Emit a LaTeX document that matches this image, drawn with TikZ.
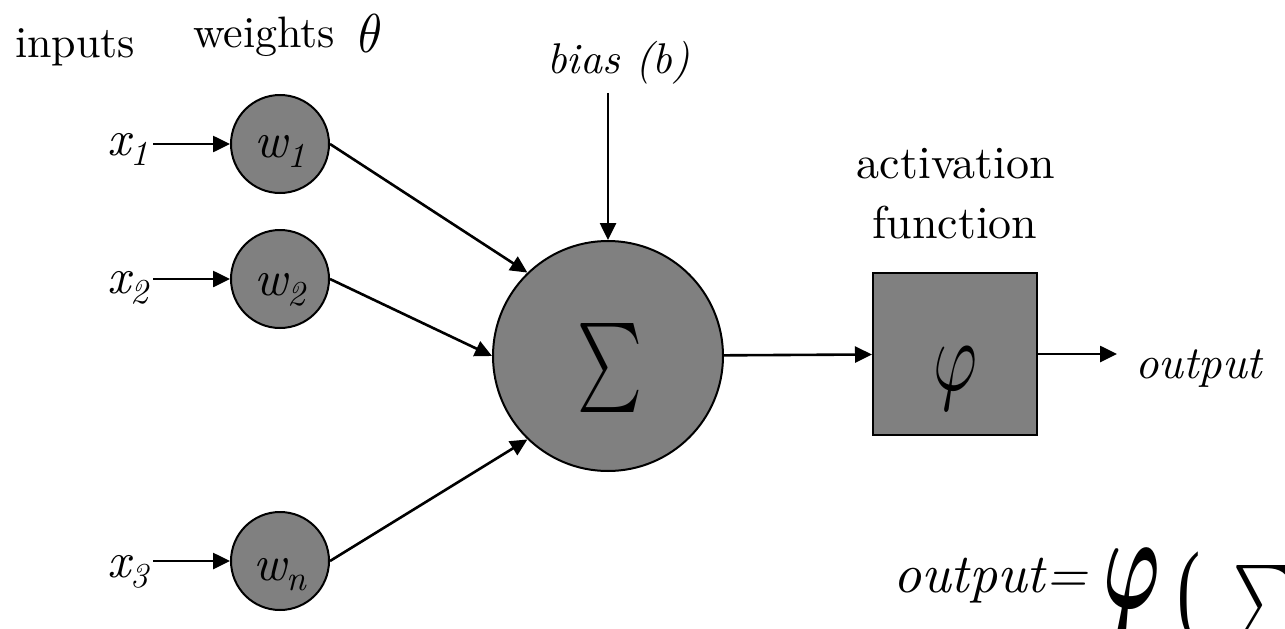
\documentclass[tikz,border=0pt]{standalone}
\usepackage{fontspec}
\usepackage{graphicx}
\usepackage{bm}
\setmainfont{lmroman10-regular.otf}[ItalicFont=lmroman10-italic.otf]
\newfontfamily\tnrup{Liberation Serif}
\usetikzlibrary{arrows.meta}
\definecolor{gfill}{RGB}{128,128,128}
\newcommand\myfs[1]{\fontsize{#1}{#1}\selectfont}
\newcommand\xsub[3]{{\itshape\myfs{#3}#1\raisebox{-10pt}{\myfs{35}#2}}}
\tikzset{
  wnode/.style={circle, draw=black, line width=2pt, fill=gfill, minimum size=98pt, inner sep=0pt, text depth=0pt},
  conn/.style={line width=2.6pt, -{Triangle[length=17pt,width=16pt]}},
  lbl/.style={inner sep=0pt, anchor=base west},
  sym/.style={inner sep=0pt},
}
\begin{document}
\begin{tikzpicture}[x=1pt,y=-1pt]
\useasboundingbox (0,0) rectangle (1285,629);
\clip (0,0) rectangle (1285,629);
% top labels
\node[lbl] (inputs) at (15,57) {\myfs{44}inputs};
\node[lbl] (weights) at (193,47) {\myfs{44}weights};
\node[sym, anchor=south west] (theta) at (358,53) {\resizebox*{24pt}{38pt}{$\theta$}};
% weight circles
\node[wnode, text height=26pt] (w1) at (280,144) {\xsub{w}{1}{50}};
\node[wnode, text height=32pt] (w2) at (280,279) {\xsub{w}{2}{50}};
\node[wnode, text height=38pt] (wn) at (280,561) {\xsub{w}{n}{50}};
% inputs
\node[lbl] (x1) at (107,155) {\xsub{x}{1}{50}};
\node[lbl] (x2) at (107,293) {\xsub{x}{2}{50}};
\node[lbl] (x3) at (107,577) {\xsub{x}{3}{50}};
\draw[conn, shorten <=5pt] (x1.east |- w1.west) -- (w1.west);
\draw[conn, shorten <=5pt] (x2.east |- w2.west) -- (w2.west);
\draw[conn, shorten <=5pt] (x3.east |- wn.west) -- (wn.west);
% summation
\node[circle, draw=black, line width=2pt, fill=gfill, minimum size=230pt, inner sep=0pt] (S) at (608,356) {};
\node[sym] (Ssym) at (609.5,367.5) {\resizebox*{65pt}{89pt}{$\sum$}};
\draw[conn] (w1.east) -- (S.134);
\draw[conn] (w2.east) -- (S.180);
\draw[conn] (wn.east) -- (S.226);
% bias
\node[lbl] (bias) at (547,73) {\myfs{43}\itshape bias (b)};
\draw[conn, shorten <=9pt] (bias.south -| S.north) -- (S.north);
% activation
\node[sym, anchor=base] (act1) at (956,178) {\myfs{46}activation};
\node[sym, anchor=base] (act2) at (955,238) {\myfs{46}function};
\node[draw=black, line width=2pt, fill=gfill, minimum width=164pt, minimum height=162pt, inner sep=0pt] (P) at (955,354) {};
\node[sym] (Pphi) at (955,378.5) {\resizebox*{44pt}{63pt}{$\varphi$}};
\draw[conn] (S) -- (P);
% output
\node[lbl] (out) at (1135,378) {\myfs{46}\itshape output};
\draw[conn, shorten >=18pt] (P.east) -- (P.east -| out.west);
% formula
\node[lbl] (f1) at (893,592) {\itshape\myfs{55}output=};
\node[sym, anchor=north west] (f2) at (1103,548) {\resizebox*{57pt}{86pt}{$\bm{\varphi}$}};
\node[sym, anchor=north west] (f3) at (1177,552) {\resizebox*{23pt}{95pt}{\tnrup (}};
\node[sym, anchor=north west] (f4) at (1233,565) {\resizebox*{62pt}{80pt}{$\sum$}};
\end{tikzpicture}
\end{document}
